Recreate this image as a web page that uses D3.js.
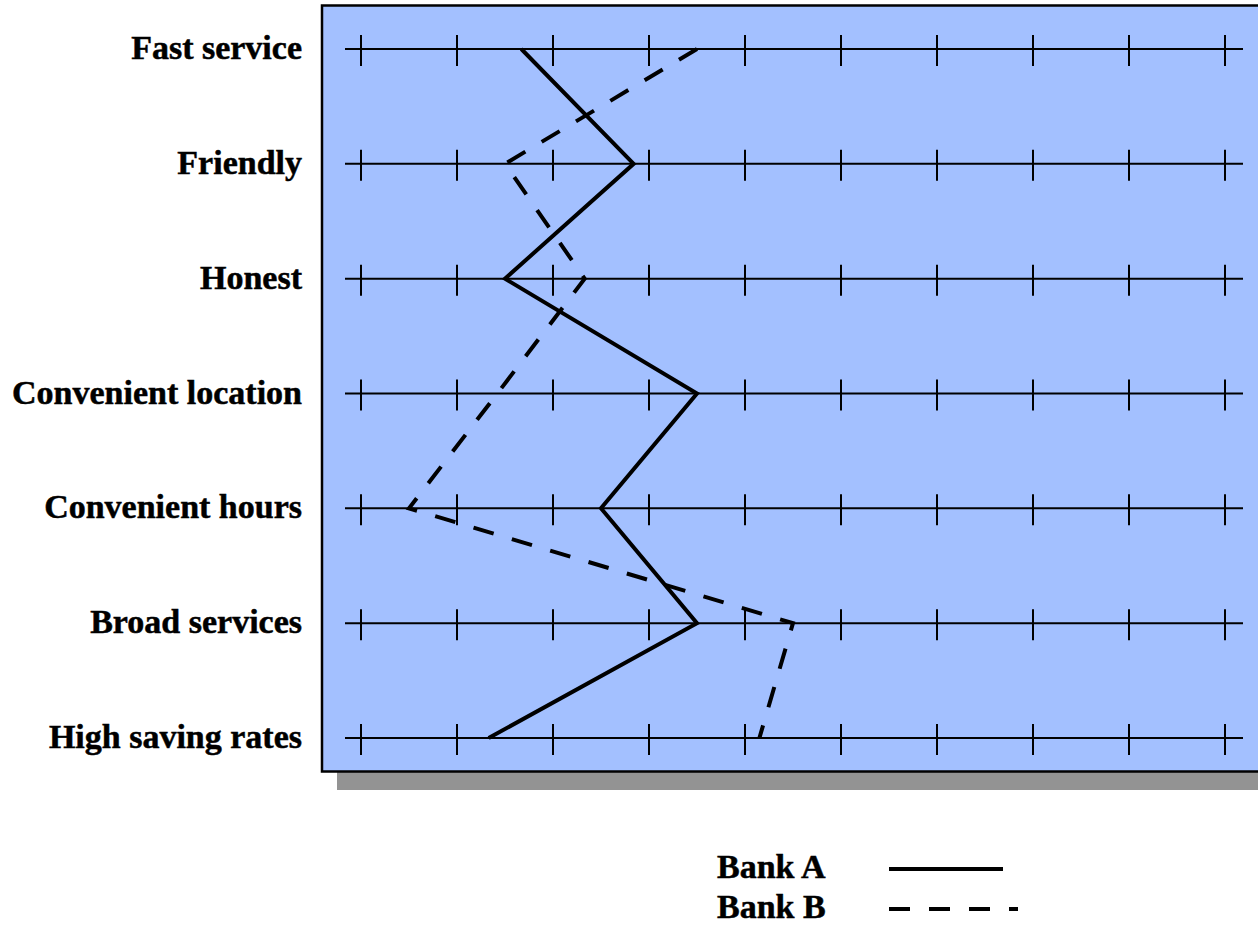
<!DOCTYPE html>
<html>
<head>
<meta charset="utf-8">
<script src="https://cdn.jsdelivr.net/npm/d3@7"></script>
<style>
body { margin: 0; background: #fff; }
</style>
</head>
<body>
<script>
var width = 1258,
height = 930,
font = "'Liberation Serif', 'Times New Roman', serif";

var categories = ["Fast service", "Friendly", "Honest", "Convenient location", "Convenient hours", "Broad services", "High saving rates"];
var bankA = [2.67, 3.84, 2.5, 4.5, 3.5, 4.5, 2.33];
var bankB = [4.5, 2.5, 3.33, 2.42, 1.5, 5.5, 5.15];
var seriesNames = ["Bank A", "Bank B"];

var svg = d3.select("body")
.append("svg")
.attr("width", width)
.attr("height", height);

var xScale = d3.scaleLinear()
.domain([1, 10])
.range([361, 1225]);

// label baselines; rows sit ~10px above them
var yScale = d3.scalePoint()
.domain(categories)
.range([59, 748]);

function rowY(c) {
	return yScale(c) - 10;
}

// plot box with shadow
svg.append("rect")
.attr("x", 337)
.attr("y", 23)
.attr("width", 940)
.attr("height", 767)
.attr("fill", "#939393");

svg.append("rect")
.attr("x", 322)
.attr("y", 5.5)
.attr("width", 950)
.attr("height", 766)
.attr("fill", "#a3c0ff")
.attr("stroke", "black")
.attr("stroke-width", 2.5);

// row lines
svg.selectAll(".row")
.data(categories)
.enter()
.append("line")
.attr("class", "row")
.attr("x1", xScale.range()[0] - 16)
.attr("x2", xScale.range()[1] + 18)
.attr("y1", rowY)
.attr("y2", rowY)
.attr("stroke", "black")
.attr("stroke-width", 2);

// ticks on every row
var tickVals = xScale.ticks(10);
var tickData = [];
categories.forEach(function(c) {
	tickVals.forEach(function(t) {
		tickData.push({ c: c, t: t });
	});
});

svg.selectAll(".tick")
.data(tickData)
.enter()
.append("line")
.attr("class", "tick")
.attr("x1", function(d) { return xScale(d.t); })
.attr("x2", function(d) { return xScale(d.t); })
.attr("y1", function(d) { return rowY(d.c) - 14; })
.attr("y2", function(d) { return rowY(d.c) + 17; })
.attr("stroke", "black")
.attr("stroke-width", 2);

// category labels
svg.selectAll(".label")
.data(categories)
.enter()
.append("text")
.attr("class", "label")
.text(function(d) { return d; })
.attr("x", 302)
.attr("y", function(d) { return yScale(d); })
.attr("text-anchor", "end")
.attr("font-family", font)
.attr("font-weight", "bold")
.attr("font-size", "34px")
.attr("fill", "black")
.attr("stroke", "black")
.attr("stroke-width", 0.5);

var line = d3.line()
.x(function(d) { return xScale(d); })
.y(function(d, i) { return rowY(categories[i]); });

svg.append("path")
.datum(bankA)
.attr("d", line)
.attr("fill", "none")
.attr("stroke", "black")
.attr("stroke-width", 4)
.attr("stroke-linejoin", "miter");

svg.append("path")
.datum(bankB)
.attr("d", line)
.attr("fill", "none")
.attr("stroke", "black")
.attr("stroke-width", 4)
.attr("stroke-dasharray", "21,19")
.attr("stroke-linejoin", "miter");

// legend
var legend = svg.selectAll(".legend")
.data(seriesNames)
.enter()
.append("g")
.attr("class", "legend")
.attr("transform", function(d, i) {
	return "translate(0," + (878 + i * 40) + ")";
});

legend.append("text")
.text(function(d) { return d; })
.attr("x", 717)
.attr("y", 0)
.attr("font-family", font)
.attr("font-weight", "bold")
.attr("font-size", "34px")
.attr("fill", "black")
.attr("stroke", "black")
.attr("stroke-width", 0.5);

legend.append("line")
.attr("x1", 889)
.attr("x2", function(d, i) { return i == 0 ? 1003 : 1018; })
.attr("y1", -9)
.attr("y2", -9)
.attr("stroke", "black")
.attr("stroke-width", 4)
.attr("stroke-dasharray", function(d, i) { return i == 0 ? null : "21,19"; });
</script>
</body>
</html>
